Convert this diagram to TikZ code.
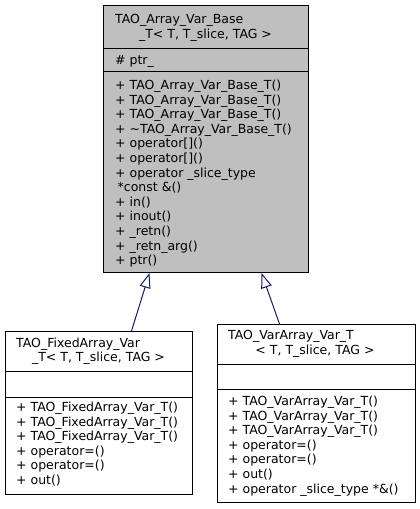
\documentclass[tikz,border=0pt]{standalone}
\usepackage{fontspec}
\setmainfont{DejaVu Sans}
\usetikzlibrary{arrows.meta}
\usetikzlibrary{positioning}
\definecolor{edgeblue}{RGB}{25,25,112}
\definecolor{basegray}{RGB}{191,191,191}
\newcommand{\umlsize}{\fontsize{12.5}{14.6}\selectfont}
\tikzstyle{classbox}=[draw=black,line width=1pt,inner sep=0pt,anchor=north west]
\tikzstyle{member}=[anchor=base west,inner sep=0pt,font=\umlsize]
\tikzstyle{title}=[anchor=base,inner sep=0pt,font=\umlsize]
\tikzstyle{inherit}=[draw=edgeblue,line width=1pt,-{Triangle[open,fill=white,length=15pt,width=11pt]}]

\begin{document}
\begin{tikzpicture}[x=1pt,y=-1pt]
  \useasboundingbox (0,0) rectangle (420,509);

  \def\dy{14.6};

  % base class
  \node[classbox, fill=basegray, minimum width=205pt, minimum height=267pt] (base) at (103,5) {};
  \draw[line width=1pt] ([yshift=-43pt]base.north west) -- ([yshift=-43pt]base.north east);
  \draw[line width=1pt] ([yshift=-66pt]base.north west) -- ([yshift=-66pt]base.north east);
  \node[member] (basetitle) at (115,23.5) {TAO\_Array\_Var\_Base};
  \node[title] (basetmpl) at (205.5,38) {\_T< T, T\_slice, TAG >};
  \node[member] (baseattr) at (115,64.5) {\# ptr\_};
  \foreach \txt [count=\k from 0] in {+ TAO\_Array\_Var\_Base\_T(), + TAO\_Array\_Var\_Base\_T(), + TAO\_Array\_Var\_Base\_T(), + \textasciitilde TAO\_Array\_Var\_Base\_T(), + operator[](), + operator[](), + operator \_slice\_type, \hspace{2.5pt}*const \&(), + in(), + inout(), + \_retn(), + \_retn\_arg(), + ptr()}
     \node[member] (basem\k) at (115, 89.5+\k*\dy) {\txt};

  % fixed array class
  \node[classbox, fill=white, minimum width=187pt, minimum height=163pt] (fixed) at (5,331) {};
  \draw[line width=1pt] ([yshift=-40pt]fixed.north west) -- ([yshift=-40pt]fixed.north east);
  \draw[line width=1pt] ([yshift=-66pt]fixed.north west) -- ([yshift=-66pt]fixed.north east);
  \node[member] (fixedtitle) at (16,347.5) {TAO\_FixedArray\_Var};
  \node[title] (fixedtmpl) at (98.5,361.5) {\_T< T, T\_slice, TAG >};
  \foreach \txt [count=\k from 0] in {+ TAO\_FixedArray\_Var\_T(), + TAO\_FixedArray\_Var\_T(), + TAO\_FixedArray\_Var\_T(), + operator=(), + operator=(), + out()}
     \node[member] (fixedm\k) at (16, 411.5+\k*\dy) {\txt};

  % var array class
  \node[classbox, fill=white, minimum width=198pt, minimum height=178pt] (var) at (217,324) {};
  \draw[line width=1pt] ([yshift=-40pt]var.north west) -- ([yshift=-40pt]var.north east);
  \draw[line width=1pt] ([yshift=-65pt]var.north west) -- ([yshift=-65pt]var.north east);
  \node[member] (vartitle) at (228,339.5) {TAO\_VarArray\_Var\_T};
  \node[title] (vartmpl) at (315,354) {< T, T\_slice, TAG >};
  \foreach \txt [count=\k from 0] in {+ TAO\_VarArray\_Var\_T(), + TAO\_VarArray\_Var\_T(), + TAO\_VarArray\_Var\_T(), + operator=(), + operator=(), + out(), + operator \_slice\_type *\&()}
     \node[member] (varm\k) at (228, 405.5+\k*\dy) {\txt};

  % inheritance
  \draw[inherit] ([xshift=32.5pt]fixed.north) -- ([xshift=-56.5pt]base.south);
  \draw[inherit] ([xshift=-37pt]var.north) -- ([xshift=55.5pt]base.south);

\end{tikzpicture}
\end{document}
